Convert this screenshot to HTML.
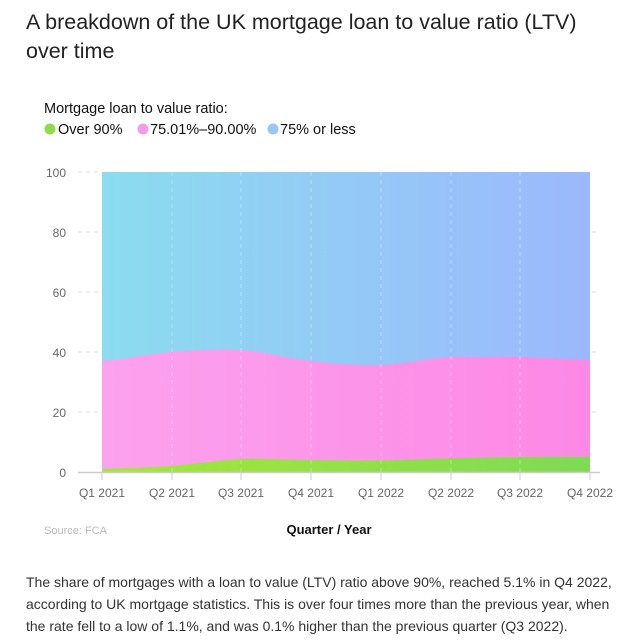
<!DOCTYPE html>
<html><head><meta charset="utf-8"><style>
body{margin:0;background:#fff;width:640px;height:640px;overflow:hidden;font-family:"Liberation Sans",sans-serif;}
.t{position:absolute;left:26px;top:8px;font-size:21.5px;line-height:29px;color:#222;width:600px}
.p{position:absolute;left:26px;top:571px;font-size:14px;line-height:22px;color:#333;width:600px}
</style></head><body>
<div class="t">A breakdown of the UK mortgage loan to value ratio (LTV)<br>over time</div>
<svg width="640" height="640" style="position:absolute;left:0;top:0" font-family="Liberation Sans, sans-serif">
<defs>
<linearGradient id="b" x1="0" x2="1"><stop offset="0" stop-color="#8bdcef"/><stop offset="1" stop-color="#9cb8fd"/></linearGradient>
<linearGradient id="pk" x1="0" x2="1"><stop offset="0" stop-color="#fca2ee"/><stop offset="1" stop-color="#fd88e5"/></linearGradient>
<linearGradient id="g" x1="0" x2="1"><stop offset="0" stop-color="#a6e63c"/><stop offset="1" stop-color="#80da55"/></linearGradient>
</defs>
<text x="44" y="113" font-size="14.5" fill="#111">Mortgage loan to value ratio:</text>
<circle cx="50" cy="129" r="5.5" fill="#8fdc4a"/><text x="58" y="134" font-size="14.5" fill="#111">Over 90%</text>
<circle cx="143" cy="129" r="5.5" fill="#f59ae8"/><text x="150" y="134" font-size="14.5" fill="#111">75.01%–90.00%</text>
<circle cx="273" cy="129" r="5.5" fill="#98c6fa"/><text x="280" y="134" font-size="14.5" fill="#111">75% or less</text>
<rect x="102" y="172" width="488" height="300" fill="url(#b)"/>
<path d="M102,472 L102,361 C125,359.5 149,353.8 172,352 C195,350.2 218,348.5 241,350 C264,351.5 288,358.5 311,361 C334,363.5 358,365.7 381,365 C404,364.3 428,358.3 451,357 C474,357 497,356.5 520,357 C543,357.5 567,359.5 590,360 L590,472 Z" fill="url(#pk)"/>
<path d="M102,472 L102,468.7 C125,468.2 149,467.3 172,465.7 C195,464.1 218,460 241,459 C264,458.05 288,459.8 311,460 C334,460.2 358,460.6 381,460.3 C404,460 428,458.75 451,458.2 C474,457.65 497,457.25 520,457 C543,456.75 567,456.75 590,456.7 L590,472 Z" fill="url(#g)"/>
<g stroke="#fff" stroke-opacity="0.35" stroke-dasharray="4,4">
<line x1="172" y1="172" x2="172" y2="472"/><line x1="241" y1="172" x2="241" y2="472"/><line x1="311" y1="172" x2="311" y2="472"/><line x1="381" y1="172" x2="381" y2="472"/><line x1="451" y1="172" x2="451" y2="472"/><line x1="520" y1="172" x2="520" y2="472"/>
</g>
<g stroke="#ddd" stroke-dasharray="4,4">
<line x1="78" y1="172" x2="100" y2="172"/><line x1="78" y1="232" x2="100" y2="232"/><line x1="78" y1="292" x2="100" y2="292"/><line x1="78" y1="352" x2="100" y2="352"/><line x1="78" y1="412" x2="100" y2="412"/>
<line x1="592" y1="232" x2="600" y2="232"/><line x1="592" y1="292" x2="600" y2="292"/><line x1="592" y1="352" x2="600" y2="352"/><line x1="592" y1="412" x2="600" y2="412"/>
</g>
<line x1="78" y1="472.5" x2="600" y2="472.5" stroke="#ccc" stroke-width="1.5"/>
<g stroke="#ccc"><line x1="102" y1="472" x2="102" y2="480"/><line x1="172" y1="472" x2="172" y2="480"/><line x1="241" y1="472" x2="241" y2="480"/><line x1="311" y1="472" x2="311" y2="480"/><line x1="381" y1="472" x2="381" y2="480"/><line x1="451" y1="472" x2="451" y2="480"/><line x1="520" y1="472" x2="520" y2="480"/><line x1="590" y1="472" x2="590" y2="480"/></g>
<g font-size="12" fill="#666" text-anchor="end"><text x="66" y="177">100</text><text x="66" y="237">80</text><text x="66" y="297">60</text><text x="66" y="357">40</text><text x="66" y="417">20</text><text x="66" y="477">0</text></g>
<g font-size="12" fill="#666" text-anchor="middle"><text x="102" y="497">Q1 2021</text><text x="172" y="497">Q2 2021</text><text x="241" y="497">Q3 2021</text><text x="311" y="497">Q4 2021</text><text x="381" y="497">Q1 2022</text><text x="451" y="497">Q2 2022</text><text x="520" y="497">Q3 2022</text><text x="590" y="497">Q4 2022</text></g>
<text x="44" y="534" font-size="11" fill="#bbb">Source: FCA</text>
<text x="329" y="534" font-size="13" font-weight="bold" fill="#111" text-anchor="middle">Quarter / Year</text>
</svg>
<div class="p">The share of mortgages with a loan to value (LTV) ratio above 90%, reached 5.1% in Q4 2022, according to UK mortgage statistics. This is over four times more than the previous year, when the rate fell to a low of 1.1%, and was 0.1% higher than the previous quarter (Q3 2022).</div>
</body></html>
